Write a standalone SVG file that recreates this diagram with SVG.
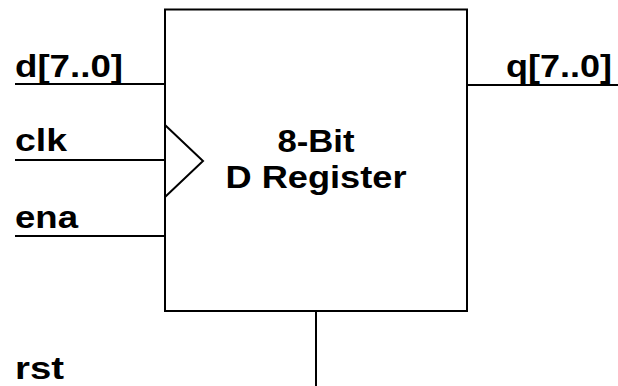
<svg xmlns="http://www.w3.org/2000/svg" width="618" height="386" viewBox="0 0 618 386">
<style>
.ln{stroke:#000;stroke-width:2;fill:none}
.lbl{font-family:"Liberation Sans",Arial,sans-serif;font-weight:bold;font-size:32px;fill:#000}
</style>
<rect width="618" height="386" fill="#fff"/>
<g id="register">
<rect class="ln" x="165" y="9.5" width="302" height="301.5"/>
<polyline class="ln" points="165,125 203,161 165,197"/>
<text class="lbl" x="316" y="152" text-anchor="middle" textLength="77" lengthAdjust="spacingAndGlyphs">8-Bit</text>
<text class="lbl" x="316" y="188" text-anchor="middle" textLength="181" lengthAdjust="spacingAndGlyphs">D Register</text>
</g>
<g id="connectors">
<line class="ln" x1="15" y1="84" x2="165" y2="84"/>
<line class="ln" x1="15" y1="160" x2="165" y2="160"/>
<line class="ln" x1="15" y1="236" x2="165" y2="236"/>
<line class="ln" x1="467" y1="85" x2="618" y2="85"/>
<line class="ln" x1="316" y1="311" x2="316" y2="386"/>
</g>
<g id="d">
<text class="lbl" x="15" y="77" textLength="108" lengthAdjust="spacingAndGlyphs">d[7..0]</text>
</g>
<g id="clk">
<text class="lbl" x="15" y="151" textLength="52" lengthAdjust="spacingAndGlyphs">clk</text>
</g>
<g id="ena">
<text class="lbl" x="15" y="228" textLength="63" lengthAdjust="spacingAndGlyphs">ena</text>
</g>
<g id="q">
<text class="lbl" x="506" y="77" textLength="106" lengthAdjust="spacingAndGlyphs">q[7..0]</text>
</g>
<g id="rst">
<text class="lbl" x="15" y="379" textLength="49" lengthAdjust="spacingAndGlyphs">rst</text>
</g>
</svg>
